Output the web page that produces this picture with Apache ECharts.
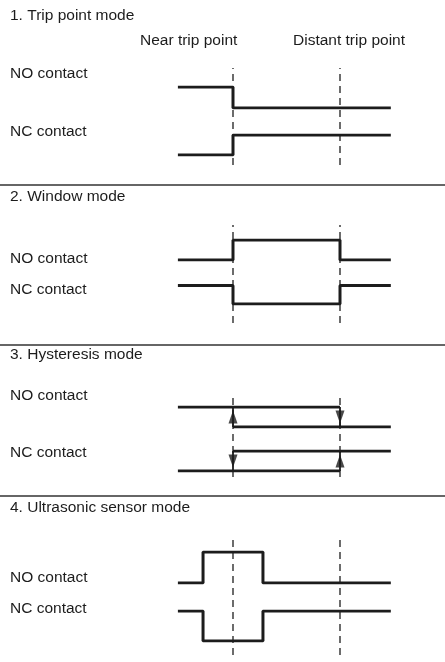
<!DOCTYPE html>
<html>
<head>
<meta charset="utf-8">
<script src="https://cdn.jsdelivr.net/npm/echarts@6/dist/echarts.min.js"></script>
<style>html,body{margin:0;padding:0;background:#fff}#c{width:445px;height:662px}</style>
</head>
<body>
<div id="c"></div>
<script>
// ---- data ----
const modeTitles = ['1. Trip point mode', '2. Window mode', '3. Hysteresis mode', '4. Ultrasonic sensor mode'];
const contactNames = ['NO contact', 'NC contact'];
const markerNames = ['Near trip point', 'Distant trip point'];
const markerPos = [1, 3];          // near, distant (time units)
const tStart = -0.03, tEnd = 3.95;

// step signals: change times and the level held from each time
const tripNO_t = [tStart, 1, tEnd];       const tripNO_v = [1, 0, 0];
const tripNC_t = [tStart, 1, tEnd];       const tripNC_v = [0, 1, 1];
const winNO_t  = [tStart, 1, 3, tEnd];    const winNO_v  = [0, 1, 0, 0];
const winNC_t  = [tStart, 1, 3, tEnd];    const winNC_v  = [1, 0, 1, 1];
const ultNO_t  = [tStart, 0.44, 1.56, tEnd]; const ultNO_v = [0, 1, 0, 0];
const ultNC_t  = [tStart, 0.44, 1.56, tEnd]; const ultNC_v = [1, 0, 1, 1];
// hysteresis: two overlapping levels each
const hysNO_high = [tStart, 3];  const hysNO_low = [1, tEnd];
const hysNC_high = [1, tEnd];    const hysNC_low = [tStart, 3];
const hysNO_arrows = [[1, 'up'], [3, 'down']];
const hysNC_arrows = [[1, 'down'], [3, 'up']];

// ---- layout ----
const X_LEFT = 152.75, X_W = 267.5; // x axis -0.5..4.5
const frames = [[68, 165], [225, 323], [393, 477], [537, 655]];
const sigGrids = [
  [[87, 108], [135, 155]],
  [[240, 260], [285.5, 304]],
  [[407, 427], [451, 471]],
  [[552, 583], [611, 641]]
];
const titleY = [15.5, 197, 355, 507.5];
const labelY = [[74, 131.5], [258.5, 290], [396, 452.5], [577.5, 609]];
const sepY = [185, 345, 496];
const INK = '#1c1c1c';
const FONT = '"Liberation Sans", Arial, Helvetica, sans-serif';

function stepPoints(t, v) {
  const pts = [];
  for (let i = 0; i < t.length; i++) {
    if (i > 0) pts.push([t[i], v[i - 1]]);
    pts.push([t[i], v[i]]);
  }
  return pts;
}

const grid = [], xAxis = [], yAxis = [], series = [];
function addGrid(top, bottom) {
  const idx = grid.length;
  grid.push({left: X_LEFT, width: X_W, top: top, height: bottom - top});
  xAxis.push({type: 'value', gridIndex: idx, min: -0.5, max: 4.5, show: false});
  yAxis.push({type: 'value', gridIndex: idx, min: 0, max: 1, show: false});
  return idx;
}
function line(idx, data, opts) {
  series.push(Object.assign({
    type: 'line', xAxisIndex: idx, yAxisIndex: idx, data: data,
    symbol: 'none', silent: true, animation: false, z: 3,
    lineStyle: {color: INK, width: 3}
  }, opts || {}));
}

// frames with dashed reference lines
frames.forEach(f => {
  const g = addGrid(f[0], f[1]);
  markerPos.forEach(p => line(g, [[p, 0], [p, 1]], {z: 1, lineStyle: {color: INK, width: 1.3, type: [7, 5]}}));
});

const stepSignals = [
  [[tripNO_t, tripNO_v], [tripNC_t, tripNC_v]],
  [[winNO_t, winNO_v], [winNC_t, winNC_v]],
  null,
  [[ultNO_t, ultNO_v], [ultNC_t, ultNC_v]]
];
sigGrids.forEach((pair, m) => {
  pair.forEach((gy, c) => {
    const g = addGrid(gy[0], gy[1]);
    if (stepSignals[m]) {
      const s = stepSignals[m][c];
      line(g, stepPoints(s[0], s[1]));
    } else {
      const hi = c === 0 ? hysNO_high : hysNC_high;
      const lo = c === 0 ? hysNO_low : hysNC_low;
      const arrows = c === 0 ? hysNO_arrows : hysNC_arrows;
      line(g, hi.map(t => [t, 1]));
      line(g, lo.map(t => [t, 0]));
      arrows.forEach(a => line(g, [[a[0], 0], [a[0], 1]], {lineStyle: {color: INK, width: 1.8}}));
      series.push({
        type: 'scatter', xAxisIndex: g, yAxisIndex: g, silent: true, animation: false, z: 4,
        symbol: 'triangle', symbolSize: [9, 13],
        itemStyle: {color: INK},
        data: arrows.map(a => ({value: [a[0], 0.5], symbolRotate: a[1] === 'up' ? 0 : 180}))
      });
    }
  });
});

// texts and separators
const graphic = [];
function text(x, y, s) {
  graphic.push({type: 'text', x: x, y: y, silent: true,
    style: {text: s, fill: INK, font: '15.5px ' + FONT, textVerticalAlign: 'middle', textAlign: 'left'}});
}
modeTitles.forEach((t, i) => text(10, titleY[i], t));
contactNames.forEach((t, c) => labelY.forEach(ly => text(10, ly[c], t)));
text(140, 41, markerNames[0]);
text(293, 41, markerNames[1]);
sepY.forEach(y => graphic.push({type: 'line', silent: true,
  shape: {x1: 0, y1: y, x2: 445, y2: y}, style: {stroke: '#333', lineWidth: 1.5}}));

const chart = echarts.init(document.getElementById('c'));
chart.setOption({animation: false, grid, xAxis, yAxis, series, graphic});
</script>
</body>
</html>
